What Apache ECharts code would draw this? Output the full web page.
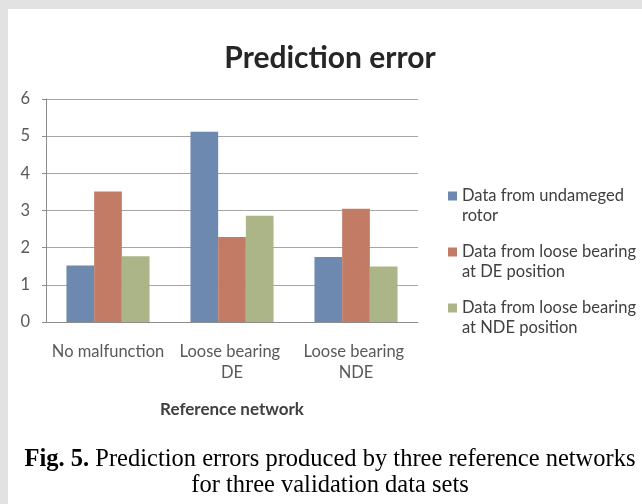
<!DOCTYPE html>
<html>
<head>
<meta charset="utf-8">
<script src="https://cdn.jsdelivr.net/npm/echarts@6/dist/echarts.min.js"></script>
<style>
html,body{margin:0;padding:0;background:#fff;}
#chart{width:642px;height:504px;}
</style>
</head>
<body>
<div id="chart"></div>
<script>
const categories = ['No malfunction', 'Loose bearing DE', 'Loose bearing NDE'];
const seriesNames = ['Data from undameged rotor', 'Data from loose bearing at DE position', 'Data from loose bearing at NDE position'];
const undamaged = [1.52, 5.12, 1.75];
const looseDE = [3.51, 2.29, 3.05];
const looseNDE = [1.77, 2.86, 1.49];
const yTicks = [0, 1, 2, 3, 4, 5, 6];
const titleText = 'Prediction error';
const xAxisName = 'Reference network';
const captionBold = 'Fig. 5.';
const captionLine1 = ' Prediction errors produced by three reference networks';
const captionLine2 = 'for three validation data sets';

const colors = ['#6D89B0', '#C27C65', '#ABB588'];
const legendLabels = {};
legendLabels[seriesNames[0]] = '\nData from undameged\nrotor';
legendLabels[seriesNames[1]] = '\nData from loose bearing\nat DE position';
legendLabels[seriesNames[2]] = '\nData from loose bearing\nat NDE position';

const font = 'Lato, "Open Sans", sans-serif';
const serif = '"Liberation Serif", "Times New Roman", serif';
const chart = echarts.init(document.getElementById('chart'), null, {renderer: 'canvas'});
const values = [undamaged, looseDE, looseNDE];

chart.setOption({
  backgroundColor: '#ffffff',
  animation: false,
  color: colors,
  title: {
    text: titleText,
    left: 330, top: 43, textAlign: 'center', padding: 0,
    textStyle: {fontFamily: font, fontSize: 30, fontWeight: 'bold', color: '#262626'}
  },
  legend: {
    orient: 'vertical',
    left: 448, top: 166, padding: 0,
    itemWidth: 9, itemHeight: 9,
    itemGap: -4,
    icon: 'rect',
    data: seriesNames,
    formatter: function (n) { return legendLabels[n]; },
    textStyle: {fontFamily: font, fontSize: 16.5, color: '#404040', lineHeight: 20}
  },
  grid: {left: 46, right: 224, top: 99, bottom: 182, containLabel: false},
  xAxis: {
    type: 'category',
    data: categories,
    name: xAxisName,
    nameLocation: 'middle',
    nameGap: 79,
    nameTextStyle: {fontFamily: font, fontSize: 17, fontWeight: 'bold', color: '#404040'},
    axisLine: {lineStyle: {color: '#8c8c8c'}},
    axisTick: {show: false},
    axisLabel: {fontFamily: font, fontSize: 16.5, color: '#595959', margin: 19, lineHeight: 21, width: 118, overflow: 'break', interval: 0}
  },
  yAxis: {
    type: 'value',
    min: 0, max: 6, interval: 1,
    axisLine: {show: true, lineStyle: {color: '#8c8c8c'}},
    axisTick: {show: true, length: 4, lineStyle: {color: '#8c8c8c'}},
    splitLine: {lineStyle: {color: '#a6a6a6'}},
    axisLabel: {fontFamily: font, fontSize: 16.5, color: '#595959', margin: 16,
      formatter: function (v) { return yTicks.indexOf(v) >= 0 ? String(v) : ''; }}
  },
  series: seriesNames.map(function (name, i) {
    return {
      name: name, type: 'bar', data: values[i],
      barGap: '0%', barCategoryGap: '33%',
      itemStyle: {color: colors[i]}
    };
  }),
  graphic: [
    {type: 'rect', left: 0, top: 0, shape: {width: 642, height: 9}, style: {fill: '#e2e2e2'}, silent: true},
    {type: 'rect', left: 0, top: 0, shape: {width: 8, height: 504}, style: {fill: '#e2e2e2'}, silent: true},
    {type: 'text', x: 330, y: 460, style: {
      text: '{b|' + captionBold + '}{n|' + captionLine1 + '}',
      align: 'center', verticalAlign: 'middle',
      rich: {
        b: {fontFamily: serif, fontSize: 24.5, fontWeight: 'bold', fill: '#000'},
        n: {fontFamily: serif, fontSize: 24.5, fill: '#000'}
      }
    }},
    {type: 'text', x: 330, y: 486, style: {
      text: captionLine2, align: 'center', verticalAlign: 'middle',
      font: '24.5px ' + serif, fill: '#000'
    }}
  ]
});
</script>
</body>
</html>
